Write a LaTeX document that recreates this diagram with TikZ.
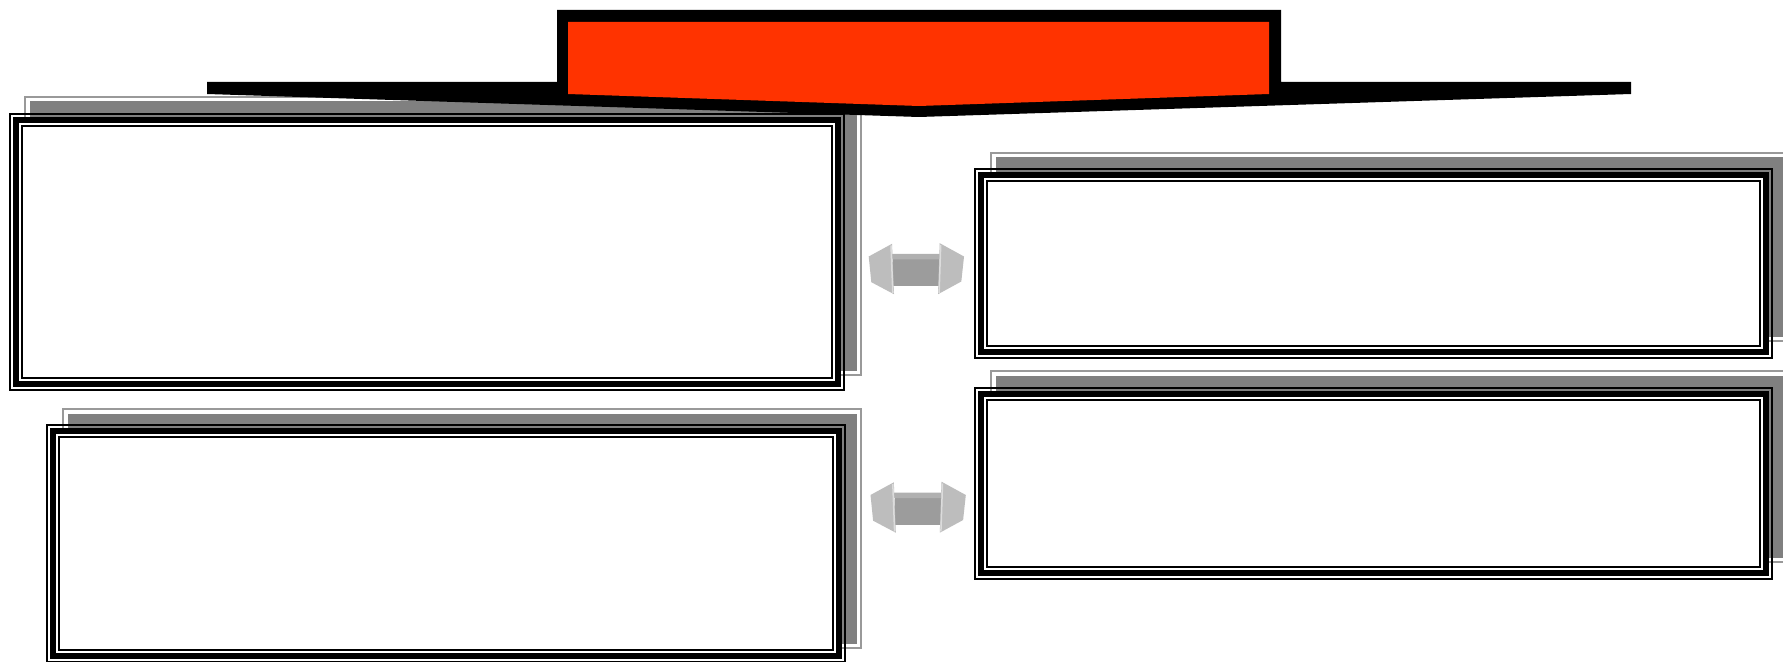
\documentclass[tikz,border=0pt]{standalone}
\usetikzlibrary{fit}
\definecolor{bannerred}{HTML}{FF3300}
\definecolor{shadowdark}{HTML}{808080}
\definecolor{shadowrim}{HTML}{999999}
\definecolor{headgray}{HTML}{BDBDBD}
\definecolor{shafttop}{HTML}{B0B0B0}
\definecolor{shaftfront}{HTML}{9C9C9C}
\definecolor{headedge}{HTML}{DCDCDC}

\tikzset{
  shadowedge/.style={draw=shadowrim, line width=0.02cm},
  shadowbody/.style={fill=shadowdark},
  thinframe/.style={draw=black, line width=0.02cm},
  bandframe/.style={draw=black, line width=0.06cm, fill=white},
  bannerblack/.style={fill=black},
  bannerface/.style={fill=bannerred},
  dblarrow/.pic={
    \fill[shaftfront] (-23.5,-9.5) rectangle (23.5,17.5);
    \fill[shafttop] (-32,-15) -- (38,-15) -- (23.5,-9.5) -- (-23.5,-9.5) -- cycle;
    \fill[headgray] (-47.8,-12.5) -- (-24.5,-25.2) -- (-22.5,25.2) -- (-45.2,13.2) -- cycle;
    \fill[headgray] (23.2,-25.8) -- (47.5,-12.5) -- (44.8,12.5) -- (21.5,25.2) -- cycle;
    \draw[headedge, line width=0.015cm] (-25.5,-23.5) -- (-23.7,24);
    \draw[headedge, line width=0.015cm] (24.2,-24) -- (22.6,24);
  }
}

\newcommand\panelbox[9]{%
  \draw[shadowedge] ({#6+1},{#7+1}) rectangle ({#8-1},{#9-1});
  \fill[shadowbody] ({#6+5.5},{#7+5.5}) rectangle ({#8-5.5},{#9-5.5});
  \draw[thinframe] ({#2+1},{#3+1}) rectangle ({#4-1},{#5-1});
  \draw[bandframe] ({#2+7},{#3+7}) rectangle ({#4-7},{#5-7});
  \draw[thinframe] ({#2+13},{#3+13}) rectangle ({#4-13},{#5-13});
  \coordinate (#1-nw) at (#2,#3);
  \coordinate (#1-se) at (#4,#5);
  \node[fit=(#1-nw)(#1-se), inner sep=0pt] (#1) {};
}

\begin{document}
\begin{tikzpicture}[x=0.01cm, y=-0.01cm]
  \fill[white] (0,0) rectangle (1783,661);
  \useasboundingbox (0,0) rectangle (1783,661);

  % panels: name, frame x0,y0,x1,y1, shadow x0,y0,x1,y1
  \panelbox{boxA}{9}{113}{845}{391.3}{24}{96}{862}{376}
  \panelbox{boxB}{974}{168}{1773}{359.3}{990}{152}{1800}{342}
  \panelbox{boxC}{46}{424}{845.6}{663}{62}{408}{862}{649}
  \panelbox{boxD}{974}{387}{1773}{580}{990}{370}{1800}{563}

  % double arrows
  \pic (arrowTop) at (916.5,269) {dblarrow};
  \pic (arrowBottom) at (918.3,507.5) {dblarrow};

  % banner
  \fill[bannerblack] (207,82) -- (557,82) -- (557,10) -- (1281,10) -- (1281,82)
     -- (1631,82) -- (1631,94) -- (919,117) -- (207,94) -- cycle;
  \fill[bannerface] (568,22) -- (1269,22) -- (1269,94) -- (919,106) -- (568,94) -- cycle;
  \coordinate (banner) at (919,60);
\end{tikzpicture}
\end{document}
